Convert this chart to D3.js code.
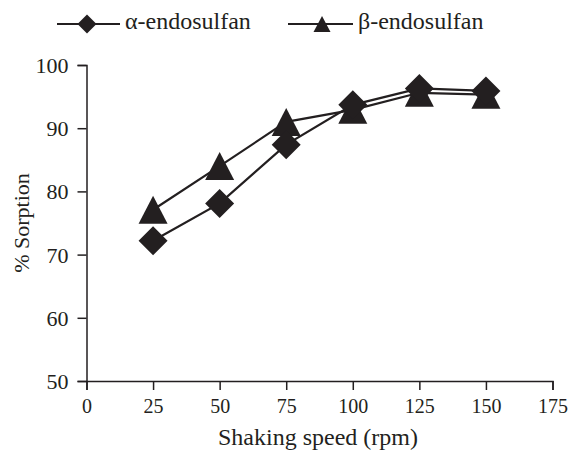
<!DOCTYPE html>
<html>
<head>
<meta charset="utf-8">
<script src="https://cdn.jsdelivr.net/npm/d3@7"></script>
<style>
  html, body { margin: 0; padding: 0; background: #fff; }
  svg { display: block; }
  text { font-family: "Liberation Serif", "Times New Roman", serif; fill: #231f20; }
</style>
</head>
<body>
<svg id="chart" width="569" height="450"></svg>
<script>
// Shaking speed (rpm) and % sorption for each isomer
const speeds = [25, 50, 75, 100, 125, 150];
const alphaSorption = [72.2, 78.1, 87.4, 93.7, 96.3, 95.9];
const betaSorption = [77.1, 84.0, 91.0, 92.9, 95.6, 95.3];
const xTicks = [0, 25, 50, 75, 100, 125, 150, 175];
const yTicks = [50, 60, 70, 80, 90, 100];
const seriesNames = ["\u03b1-endosulfan", "\u03b2-endosulfan"];

const ink = "#231f20";
const serif = '"Liberation Serif", "Times New Roman", serif';
const svg = d3.select("#chart");

const x = d3.scaleLinear().domain([0, 175]).range([86.5, 552.5]);
const y = d3.scaleLinear().domain([50, 100]).range([381, 65]);

// Axes
const xAxis = svg.append("g")
  .attr("transform", `translate(0,${y(50)})`)
  .call(d3.axisBottom(x).tickValues(xTicks).tickSize(9).tickPadding(9).tickFormat(d3.format("d")));
const yAxis = svg.append("g")
  .attr("transform", `translate(${x(0)},0)`)
  .call(d3.axisLeft(y).tickValues(yTicks).tickSize(9).tickPadding(9).tickFormat(d3.format("d")));

[xAxis, yAxis].forEach(g => {
  g.select(".domain").attr("stroke", ink).attr("stroke-width", 1.5);
  g.selectAll(".tick line").attr("stroke", ink).attr("stroke-width", 1.5);
  g.selectAll(".tick text").style("font-family", serif).attr("fill", ink);
});
xAxis.selectAll(".tick text").style("font-size", "20px");
yAxis.selectAll(".tick text").style("font-size", "22px").attr("dy", "0.34em");

// Axis titles
svg.append("text")
  .attr("x", 318).attr("y", 445)
  .attr("text-anchor", "middle")
  .style("font-size", "24px")
  .text("Shaking speed (rpm)");
svg.append("text")
  .attr("transform", `translate(29,${223}) rotate(-90)`)
  .attr("text-anchor", "middle")
  .style("font-size", "22px")
  .text("% Sorption");

// Marker shapes
function diamondPath(r) {
  return `M0,${-r}L${r},0L0,${r}L${-r},0Z`;
}
function trianglePath(w, h) {
  return `M0,${-h / 2}L${w / 2},${h / 2}L${-w / 2},${h / 2}Z`;
}

const line = d3.line().x(d => x(d[0])).y(d => y(d[1]));
const alphaData = speeds.map((s, i) => [s, alphaSorption[i]]);
const betaData = speeds.map((s, i) => [s, betaSorption[i]]);

// Lines
[alphaData, betaData].forEach(data => {
  svg.append("path")
    .datum(data)
    .attr("d", line)
    .attr("fill", "none")
    .attr("stroke", ink)
    .attr("stroke-width", 2.2);
});

// Markers: triangles first, diamonds on top
svg.append("g").selectAll("path")
  .data(betaData).join("path")
  .attr("transform", d => `translate(${x(d[0])},${y(d[1])})`)
  .attr("d", trianglePath(29, 28))
  .attr("fill", ink);

svg.append("g").selectAll("path")
  .data(alphaData).join("path")
  .attr("transform", d => `translate(${x(d[0])},${y(d[1])})`)
  .attr("d", diamondPath(14.5))
  .attr("fill", ink);

// Legend
const legend = svg.append("g");
const legendItems = [
  { name: seriesNames[0], x0: 57, x1: 120, mx: 87, shape: diamondPath(9.5), tx: 125 },
  { name: seriesNames[1], x0: 288, x1: 353, mx: 322, shape: trianglePath(17, 16), tx: 358 }
];
legendItems.forEach(item => {
  legend.append("line")
    .attr("x1", item.x0).attr("x2", item.x1)
    .attr("y1", 24).attr("y2", 24)
    .attr("stroke", ink).attr("stroke-width", 1.8);
  legend.append("path")
    .attr("transform", `translate(${item.mx},24)`)
    .attr("d", item.shape)
    .attr("fill", ink);
  legend.append("text")
    .attr("x", item.tx).attr("y", 29)
    .style("font-size", "24px")
    .text(item.name);
});
</script>
</body>
</html>
